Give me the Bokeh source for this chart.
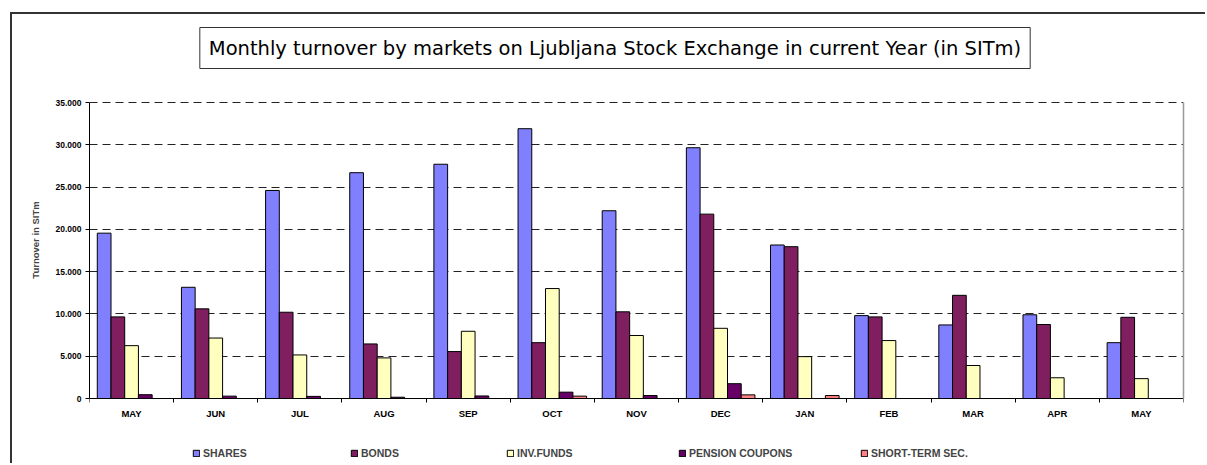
from bokeh.plotting import figure
from bokeh.models import (ColumnDataSource, Range1d, FixedTicker, Legend, LegendItem,
                          Label, LinearAxis)
from bokeh.transform import dodge
from bokeh.embed import file_html
from bokeh.resources import INLINE
import numpy as np

# ---- data ----
months = ["MAY", "JUN", "JUL", "AUG", "SEP", "OCT", "NOV", "DEC", "JAN", "FEB", "MAR", "APR", "MAY"]
shares = [19550, 13150, 24600, 26700, 27700, 31900, 22200, 29650, 18150, 9800, 8700, 9900, 6600]
bonds = [9650, 10600, 10200, 6450, 5550, 6600, 10250, 21800, 17950, 9650, 12200, 8750, 9600]
inv_funds = [6250, 7150, 5150, 4800, 7950, 13000, 7450, 8300, 4950, 6850, 3900, 2450, 2350]
pension = [450, 280, 250, 150, 300, 750, 350, 1750, 0, 0, 0, 0, 0]
short_term = [0, 0, 0, 0, 0, 280, 0, 430, 350, 0, 0, 0, 0]
series_names = ["SHARES", "BONDS", "INV.FUNDS", "PENSION COUPONS", "SHORT-TERM SEC."]
series_cols = ["shares", "bonds", "inv_funds", "pension", "short_term"]
colors = ["#8080FF", "#7F1F5F", "#FFFFC0", "#660066", "#FF8080"]
y_ticks = [0, 5000, 10000, 15000, 20000, 25000, 30000, 35000]
y_max = 35000
title_text = "Monthly turnover by markets on Ljubljana Stock Exchange in current Year (in SITm)"
y_label = "Turnover in SITm"

FONT = "Liberation Sans"

# ---- layout constants (pixels) ----
OFF_X, OFF_Y = 12, 14          # canvas offset on page (outer frame lines drawn just outside)
W, H = 1195, 451
PLOT_LEFT, PLOT_RIGHT = 89, 1183   # value-axis area, page coords
PLOT_TOP, PLOT_BOTTOM = 102, 398
frame_left = PLOT_LEFT - OFF_X
frame_right_border = OFF_X + W - PLOT_RIGHT
frame_top_page, frame_bottom_page = OFF_Y, OFF_Y + H
px_per_unit = (PLOT_BOTTOM - PLOT_TOP) / y_max
y_end = y_max + (PLOT_TOP - frame_top_page) / px_per_unit
y_start = -(frame_bottom_page - PLOT_BOTTOM) / px_per_unit

src = ColumnDataSource(dict(
    pos=list(np.arange(len(months)) + 0.5),
    shares=shares, bonds=bonds, inv_funds=inv_funds, pension=pension, short_term=short_term,
))

p = figure(width=W, height=H, x_range=Range1d(0, len(months)), y_range=Range1d(y_start, y_end),
           output_backend="svg", toolbar_location=None,
           min_border_left=frame_left, min_border_right=frame_right_border,
           min_border_top=0, min_border_bottom=0)
p.outline_line_color = None
p.background_fill_color = "white"
p.border_fill_color = "white"
# outer chart-area frame (left and top edges visible in the window)
p.styles = {"margin-left": f"{OFF_X}px", "margin-top": f"{OFF_Y}px",
            "box-shadow": "-2px -2px 0px 0px #333333"}

bw = 0.163
renderers = []
for i, (col, c) in enumerate(zip(series_cols, colors)):
    r = p.vbar(x=dodge("pos", (i - 2) * bw, range=p.x_range), top=col, width=bw, source=src,
               fill_color=c, line_color="black", line_width=1)
    renderers.append(r)

# grid
p.xgrid.grid_line_color = None
p.ygrid.ticker = FixedTicker(ticks=y_ticks[1:])
p.ygrid.grid_line_color = "#222222"
p.ygrid.grid_line_dash = "8 5"
p.ygrid.grid_line_width = 1

# y axis
p.yaxis.bounds = (0, y_max)
p.yaxis.ticker = FixedTicker(ticks=y_ticks)
p.yaxis.major_label_overrides = {t: f"{t:,}".replace(",", ".") for t in y_ticks}
p.yaxis.major_tick_out = 4
p.yaxis.major_tick_in = 0
p.yaxis.minor_tick_line_color = None
p.yaxis.axis_line_color = "black"
p.yaxis.major_label_text_font = FONT
p.yaxis.major_label_text_font_style = "bold"
p.yaxis.major_label_text_font_size = "8.5px"
p.yaxis.major_label_text_color = "black"
p.yaxis.major_label_standoff = 4
p.yaxis.axis_label = y_label
p.yaxis.axis_label_text_font = FONT
p.yaxis.axis_label_text_font_style = "bold"
p.yaxis.axis_label_text_font_size = "9.5px"
p.yaxis.axis_label_standoff = 12

# right border of the plot area
rax = LinearAxis(bounds=(0, y_max), ticker=FixedTicker(ticks=[]), axis_line_color="#999999",
                 axis_line_width=1.5, major_tick_line_color=None, minor_tick_line_color=None,
                 major_label_text_font_size="0px")
p.add_layout(rax, "right")

# x axis (drawn at value 0)
xt = FixedTicker(ticks=list(np.arange(len(months)) + 0.5), minor_ticks=list(range(len(months) + 1)))
p.xaxis.fixed_location = 0
p.xaxis.ticker = xt
p.xaxis.major_label_overrides = {float(k + 0.5): m for k, m in enumerate(months)}
p.xaxis.major_tick_out = 0
p.xaxis.major_tick_in = 0
p.xaxis.minor_tick_out = 4
p.xaxis.minor_tick_in = 0
p.xaxis.minor_tick_line_color = "black"
p.xaxis.axis_line_color = "black"
p.xaxis.major_label_text_font = FONT
p.xaxis.major_label_text_font_style = "bold"
p.xaxis.major_label_text_font_size = "9.5px"
p.xaxis.major_label_text_color = "black"
p.xaxis.major_label_standoff = 5

# title box
TITLE_CX, TITLE_CY = 614.5, 47.5   # page coords of box centre
p.add_layout(Label(x=TITLE_CX - PLOT_LEFT, y=frame_bottom_page - TITLE_CY,
                   x_units="screen", y_units="screen", text=title_text,
                   text_align="center", text_baseline="middle",
                   text_font="DejaVu Sans", text_font_size="19.5px", text_color="black",
                   border_line_color="#333333", border_line_width=1,
                   background_fill_color="white", padding=9))

# legend entries (one legend per entry, placed along the bottom)
LEG_X = [192, 350, 506, 678, 860]   # page x of swatches
LEG_BOTTOM = 459
for name, r, lx in zip(series_names, renderers, LEG_X):
    lg = Legend(items=[LegendItem(label=name, renderers=[r])],
                location=(lx - PLOT_LEFT, frame_bottom_page - LEG_BOTTOM),
                orientation="horizontal", glyph_width=8, glyph_height=8,
                label_height=10, label_width=10, label_standoff=3, padding=0, margin=0,
                spacing=0, border_line_color=None, background_fill_alpha=0,
                label_text_font=FONT, label_text_font_style="bold",
                label_text_font_size="10.5px")
    p.add_layout(lg)

open("out.html", "w").write(file_html(p, INLINE))
